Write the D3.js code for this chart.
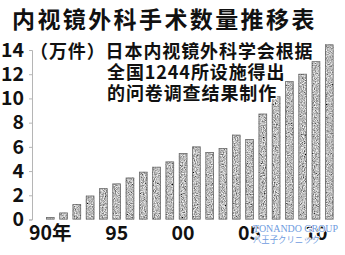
<!DOCTYPE html>
<html>
<head>
<meta charset="utf-8">
<script src="https://cdn.jsdelivr.net/npm/d3@7/dist/d3.min.js"></script>
<style>
  html, body { margin: 0; padding: 0; background: #fff; }
  svg { display: block; }
</style>
</head>
<body>
<svg id="chart" width="345" height="255"></svg>
<script>
// Endoscopic surgery cases per year (unit: 10,000 cases)
const years = ["1990","1991","1992","1993","1994","1995","1996","1997","1998","1999","2000",
               "2001","2002","2003","2004","2005","2006","2007","2008","2009","2010","2011"];
const cases = [0.2, 0.57, 1.28, 1.97, 2.58, 2.97, 3.46, 3.94, 4.35, 4.79, 5.48,
               6.03, 5.57, 5.9, 7.0, 6.64, 8.74, 10.17, 11.42, 12.03, 13.07, 14.46];
const yTicks = [0, 2, 4, 6, 8, 10, 12, 14];
const xTickYears = ["1990", "1995", "2000", "2005", "2010"];
const xTickLabels = ["90年", "95", "00", "05", "10"];
const title = "内视镜外科手术数量推移表";
const noteLines = ["（万件）日本内视镜外科学会根据", "全国1244所设施得出", "的问卷调查结果制作"];

const cjk = '"Noto Sans CJK SC", "Noto Sans CJK JP", sans-serif';
const svg = d3.select("#chart");

// speckled grey texture for the bars
const defs = svg.append("defs");
const grain = defs.append("filter").attr("id", "grain")
  .attr("x", 0).attr("y", 0).attr("width", 1).attr("height", 1);
grain.append("feTurbulence").attr("type", "fractalNoise")
  .attr("baseFrequency", 0.9).attr("numOctaves", 2).attr("seed", 4).attr("result", "noise");
grain.append("feColorMatrix").attr("in", "noise").attr("type", "matrix")
  .attr("values", "1.5 0 0 0 -0.24  1.5 0 0 0 -0.24  1.5 0 0 0 -0.24  0 0 0 0 1")
  .attr("result", "grey");
grain.append("feComposite").attr("in", "grey").attr("in2", "SourceAlpha").attr("operator", "in");

const x = d3.scaleBand().domain(years).range([46, 333.5]).paddingInner(0.36).paddingOuter(0);
const y = d3.scaleLinear().domain([0, 14]).range([219.5, 50]);

// y axis
const yAxis = svg.append("g").attr("transform", "translate(32,0)")
  .call(d3.axisLeft(y).tickValues(yTicks).tickSize(3).tickPadding(5));
yAxis.select(".domain").attr("stroke", "#b5b5b5").attr("stroke-width", 1);
yAxis.selectAll(".tick line").attr("stroke", "#b5b5b5");
yAxis.selectAll(".tick text")
  .attr("font-family", cjk).attr("font-weight", 700).attr("font-size", 19.5)
  .attr("fill", "#111");

// bars
const bars = svg.append("g");
bars.selectAll("rect.fill").data(years).join("rect").attr("class", "fill")
  .attr("x", d => x(d)).attr("width", x.bandwidth())
  .attr("y", (d, i) => y(cases[i])).attr("height", (d, i) => y(0) - y(cases[i]))
  .attr("fill", "#888").attr("filter", "url(#grain)");
bars.selectAll("rect.edge").data(years).join("rect").attr("class", "edge")
  .attr("x", d => x(d) + 0.4).attr("width", x.bandwidth() - 0.8)
  .attr("y", (d, i) => y(cases[i]) + 0.4).attr("height", (d, i) => Math.max(0, y(0) - y(cases[i]) - 0.8))
  .attr("fill", "none").attr("stroke", "#6e6e6e").attr("stroke-width", 0.8);

// x axis labels
svg.append("g").selectAll("text").data(xTickYears).join("text")
  .attr("x", d => x(d) + x.bandwidth() / 2).attr("y", 240)
  .attr("text-anchor", "middle")
  .attr("font-family", cjk).attr("font-weight", 700).attr("font-size", 19.5).attr("fill", "#111")
  .text((d, i) => xTickLabels[i]);

// title
svg.append("text").attr("x", 12).attr("y", 18).attr("dominant-baseline", "central")
  .attr("font-family", cjk).attr("font-weight", 700).attr("font-size", 23)
  .attr("letter-spacing", 2.4).attr("fill", "#111").text(title);

// source note
const noteX = [30, 107, 107];
const noteY = [50, 70.5, 91.5];
svg.append("g").selectAll("text").data(noteLines).join("text")
  .attr("x", (d, i) => noteX[i]).attr("y", (d, i) => noteY[i]).attr("dominant-baseline", "central")
  .attr("font-family", cjk).attr("font-weight", 700).attr("font-size", 18)
  .attr("letter-spacing", 0.9).attr("fill", "#111")
  .attr("stroke", "#fff").attr("stroke-width", 2.5).attr("paint-order", "stroke")
  .text(d => d);

// clinic stamp
const stamp = svg.append("g").attr("fill", "#6f9ce0")
  .attr("stroke", "#fff").attr("stroke-width", 1.6).attr("paint-order", "stroke");
stamp.append("text").attr("x", 253).attr("y", 232)
  .attr("font-family", '"Liberation Serif", "DejaVu Serif", serif').attr("font-size", 11)
  .attr("textLength", 85).attr("lengthAdjust", "spacingAndGlyphs")
  .text("TONANDO GROUP");
stamp.append("text").attr("x", 253).attr("y", 243)
  .attr("font-family", cjk).attr("font-size", 8.6)
  .attr("textLength", 67).attr("lengthAdjust", "spacingAndGlyphs")
  .text("八王子クリニック");
</script>
</body>
</html>
